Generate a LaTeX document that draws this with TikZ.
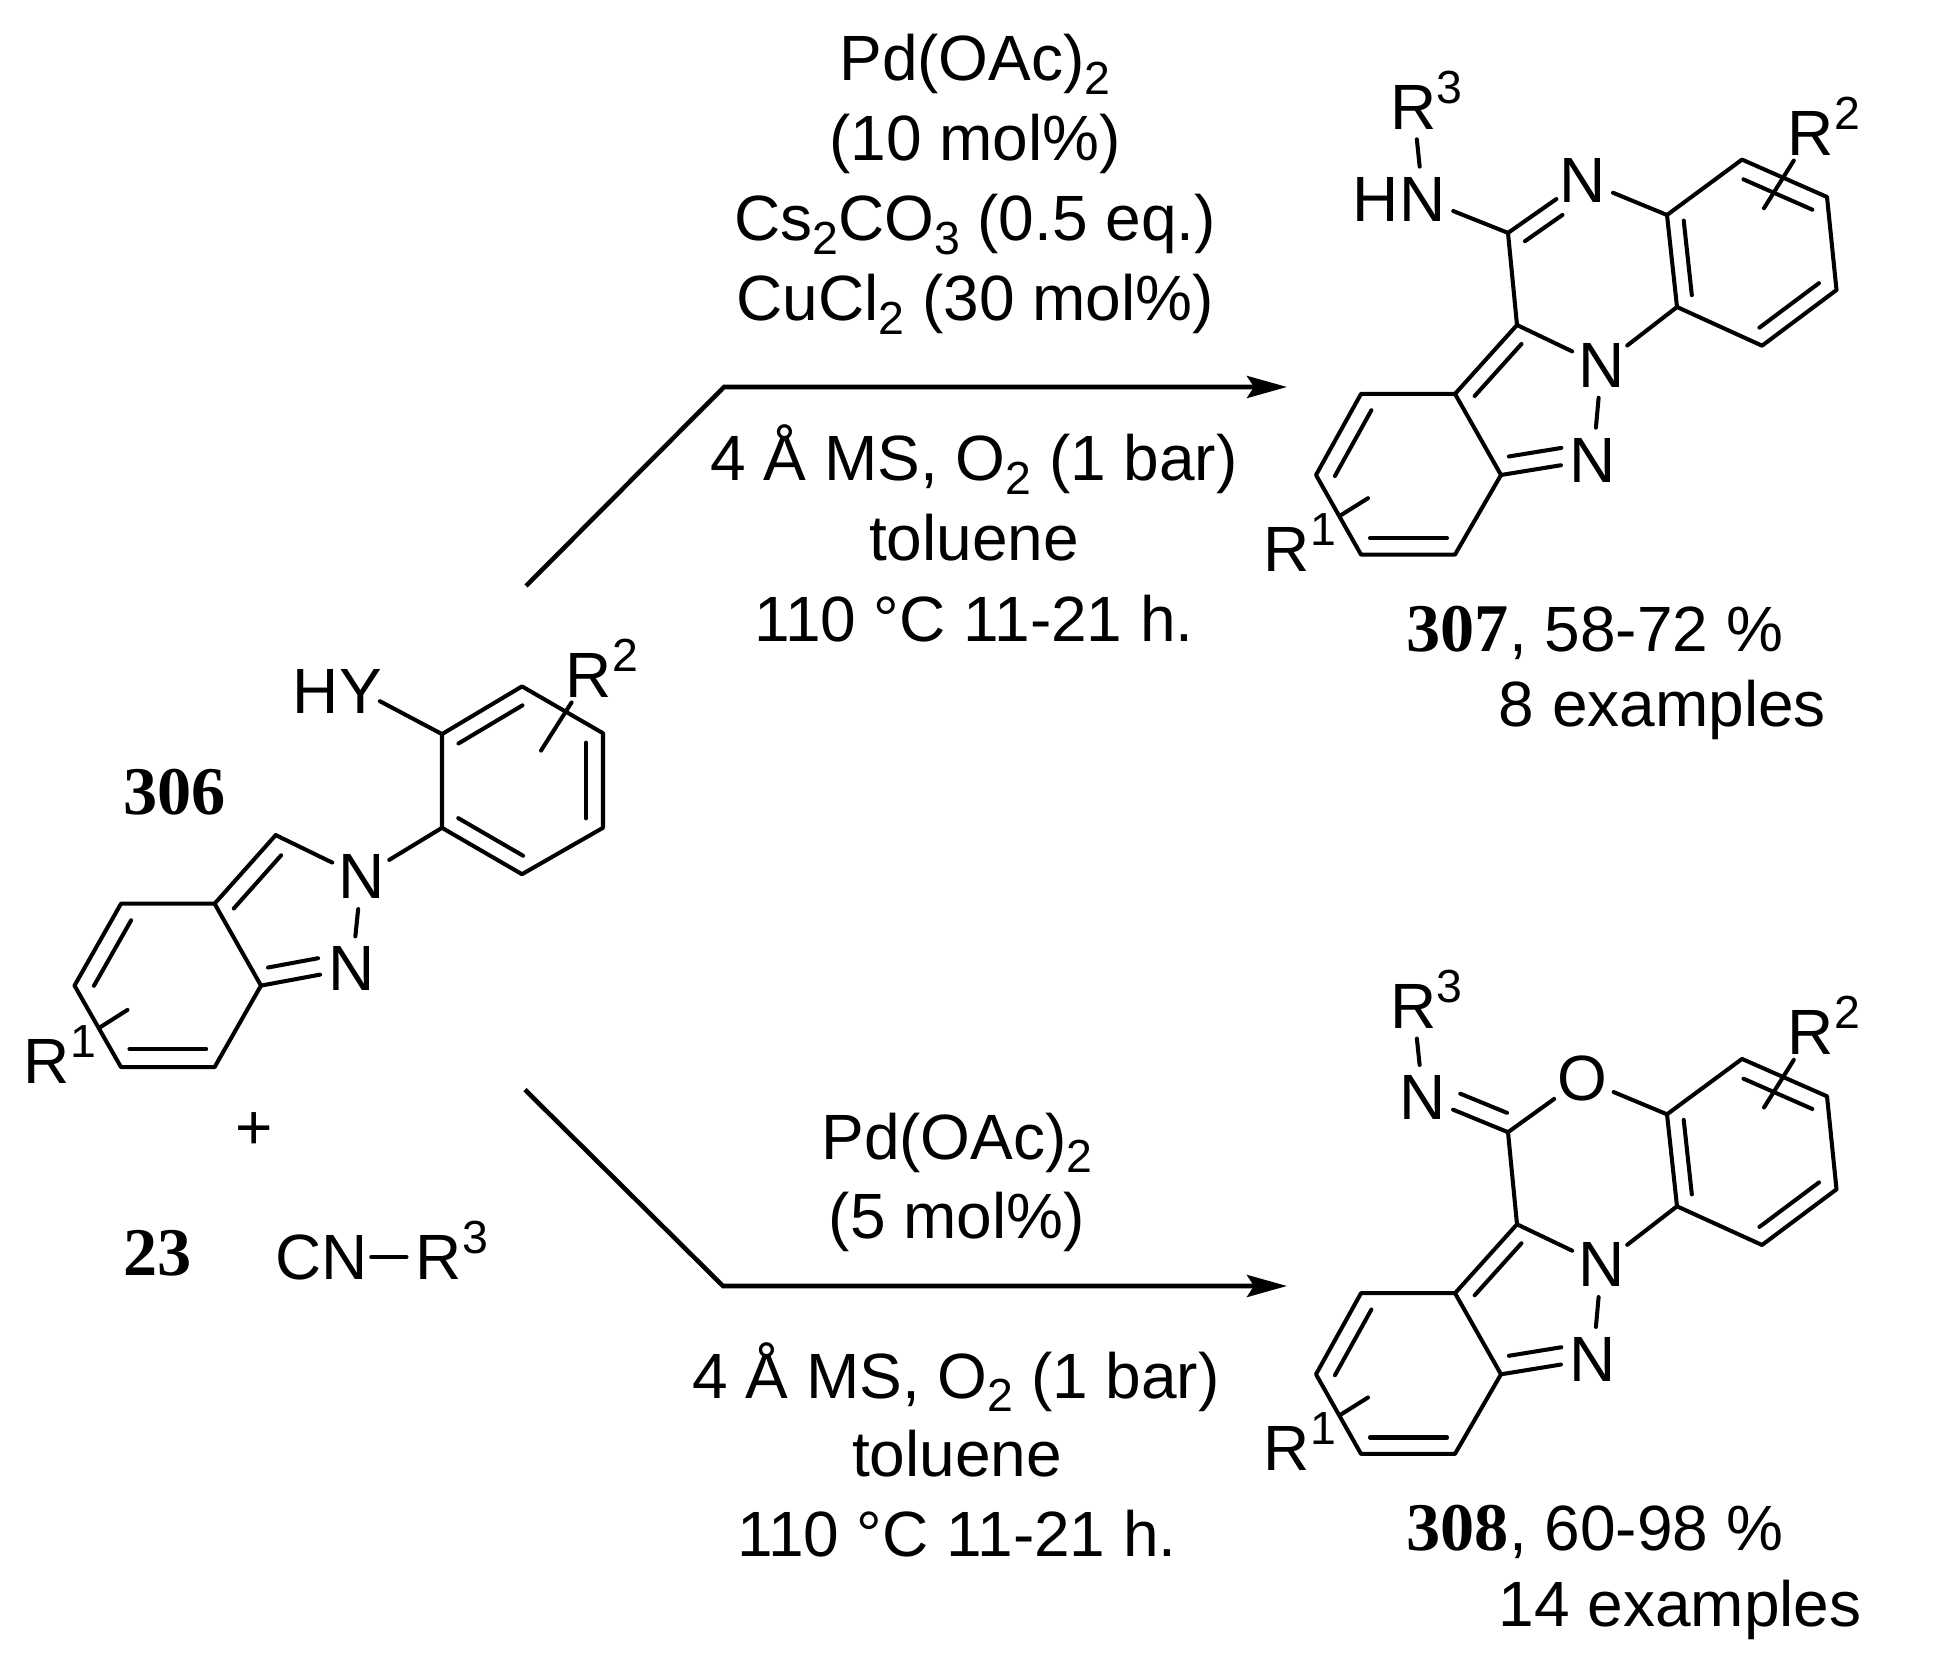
\documentclass[tikz,border=0pt]{standalone}
\usepackage{fontspec}
\setmainfont{Liberation Sans}
\newfontfamily\numfont{Liberation Serif}
\usetikzlibrary{calc,arrows.meta}

\newcommand{\sups}[1]{\rlap{\smash{\raisebox{.4em}{\fontsize{13.2}{15}\selectfont #1}}}}
\newcommand{\subs}[1]{\raisebox{-.21em}{\fontsize{13.2}{15}\selectfont #1}}
\newcommand{\cpd}[1]{{\fontsize{19.4}{22}\selectfont\numfont\bfseries #1}}

\tikzset{
	bond/.style={line width=1.15pt, line cap=round, line join=round},
	rxnarrow/.style={line width=1.3pt, line join=miter},
	atom/.style={circle, inner sep=0pt},
	textline/.style={anchor=base, inner sep=0pt},
	textleft/.style={anchor=base west, inner sep=0pt}
}

% second stroke of a double bond: from, to, start, stop, offset (cm, + is left of travel)
\newcommand{\innerbond}[5]{\draw[bond] ($(#1)!#3!(#2)!#5cm!90:(#2)$) -- ($(#1)!#4!(#2)!#5cm!90:(#2)$);}

% ring system shared by both products
\newcommand{\tricycle}{
	\foreach \name/\pos in {c1/{1667,215}, c2/{1742,159.6}, c3/{1827,197}, c4/{1836.5,290}, c5/{1762,345.7}, c6/{1677,307},
		d1/{1455,393.9}, d2/{1361,393.9}, d3/{1316,475}, d4/{1361,554.6}, d5/{1455,554.6}, d6/{1501,475},
		ca/{1508,232.9}, cb/{1517,325}, rightend/{1764,208.2}, leftend/{1368,498.2}}
		\coordinate (\name) at (\pos);
	\node[atom] (n1) at (1601.5,365.4) {N};
	\node[atom] (n2) at (1593,460) {N};
	\node[atom] (rtwo) at (1811,133) {R\sups{2}};
	\node[atom] (rone) at (1287,549) {R\sups{1}};
	\node[atom] (rthree) at (1413.5,107) {R\sups{3}};
	\draw[bond] (c1) -- (c2) -- (c3) -- (c4) -- (c5) -- (c6) -- cycle;
	\draw[bond] (d1) -- (d2) -- (d3) -- (d4) -- (d5) -- (d6) -- cycle;
	\draw[bond] (ca) -- (cb) -- (d1);
	\draw[bond] (cb) -- (n1);
	\draw[bond] (c6) -- (n1);
	\draw[bond] (n1) -- (n2);
	\draw[bond] (d6) -- (n2);
	\draw[bond] (rtwo) -- (rightend);
	\draw[bond, shorten <=.3cm] (rone) -- (leftend);
	\innerbond{c1}{c6}{.08}{.89}{.16}
	\innerbond{c2}{c3}{.1}{.91}{-.175}
	\innerbond{c4}{c5}{.107}{.906}{-.16}
	\innerbond{cb}{d1}{.12}{.875}{.16}
	\innerbond{d2}{d3}{.1}{.91}{.17}
	\innerbond{d4}{d5}{.096}{.915}{.164}
	\innerbond{d6}{n2}{.115}{.685}{.17}
}

\begin{document}
\begin{tikzpicture}[x=0.01cm, y=-0.01cm, every node/.style={font=\fontsize{18.2}{21}\selectfont}]
	\useasboundingbox (0,0) rectangle (1939,1673);

	% starting material 306
	\foreach \name/\pos in {e1/{214.6,903.7}, e2/{121,903.7}, e3/{74.5,985.6}, e4/{121,1067.1}, e5/{214.6,1067.1}, e6/{261,985.6},
		apex/{275.7,835.1}, f1/{442,734.1}, f2/{522,686.4}, f3/{603,733.2}, f4/{603,827.8}, f5/{522,874.2}, f6/{442,827.8},
		rtwoend/{541,750.6}, roneend/{127.5,1009.9}}
		\coordinate (\name) at (\pos);
	\node[atom] (startn1) at (361.5,876.8) {N};
	\node[atom] (startn2) at (352,968.7) {N};
	\node[atom] (starth) at (316,691.2) {H};
	\node[atom] (starty) at (361,691.2) {Y};
	\node[atom] (startrtwo) at (589,675) {R\sups{2}};
	\node[atom] (startrone) at (47,1061) {R\sups{1}};
	\draw[bond] (e1) -- (e2) -- (e3) -- (e4) -- (e5) -- (e6) -- cycle;
	\draw[bond] (f1) -- (f2) -- (f3) -- (f4) -- (f5) -- (f6) -- cycle;
	\draw[bond] (e1) -- (apex);
	\draw[bond] (apex) -- (startn1);
	\draw[bond] (startn1) -- (startn2);
	\draw[bond] (e6) -- (startn2);
	\draw[bond] (startn1) -- (f6);
	\draw[bond, shorten <=-.1cm] (starty) -- (f1);
	\draw[bond] (startrtwo) -- (rtwoend);
	\draw[bond, shorten <=.3cm] (startrone) -- (roneend);
	\innerbond{e1}{apex}{.1}{.875}{-.175}
	\innerbond{f1}{f2}{.1}{.9}{-.165}
	\innerbond{f3}{f4}{.1}{.9}{-.17}
	\innerbond{f5}{f6}{.09}{.9}{-.165}
	\innerbond{e2}{e3}{.1}{.9}{.17}
	\innerbond{e4}{e5}{.09}{.91}{.18}
	\innerbond{e6}{startn2}{.11}{.66}{.165}
	\node[textleft] (lab306) at (123,814.8) {\cpd{306}};
	\node[inner sep=0pt] (plus) at (254,1131) {+};
	\node[textleft] (lab23) at (123,1275.3) {\cpd{23}};
	\node[inner sep=.03cm] (cn) at (321.3,1257) {CN};
	\node[atom] (cnr) at (439,1257) {R\sups{3}};
	\draw[bond] (cn) -- (cnr);

	% product 307
	\begin{scope}[name prefix=top-]
		\tricycle
		\node[atom] (h) at (1376,199) {H};
		\node[atom] (amine) at (1423,199) {N};
		\node[atom] (n3) at (1583,180.4) {N};
		\draw[bond] (rthree) -- (amine);
		\draw[bond] (amine) -- (ca);
		\draw[bond] (ca) -- (n3);
		\draw[bond] (n3) -- (c1);
		\innerbond{ca}{n3}{.1}{.6}{-.165}
	\end{scope}

	% product 308
	\begin{scope}[name prefix=low-, shift={(0,899.3)}]
		\tricycle
		\node[atom] (imine) at (1423,198) {N};
		\node[atom] (ox) at (1582,179.6) {O};
		\draw[bond] (rthree) -- (imine);
		\draw[bond] (imine) -- (ca);
		\draw[bond] (ca) -- (ox);
		\draw[bond] (ox) -- (c1);
		\innerbond{ca}{imine}{.09}{.64}{-.175}
	\end{scope}

	% reaction arrows
	\coordinate (topstart) at (526,586);
	\coordinate (topbend) at (724,387);
	\coordinate (toptip) at (1287,387);
	\coordinate (lowstart) at (525,1089.7);
	\coordinate (lowbend) at (723,1286);
	\coordinate (lowtip) at (1287,1286);
	\draw[rxnarrow, -{Stealth[length=.4cm, width=.22cm, inset=.07cm]}] (topstart) -- (topbend) -- (toptip);
	\draw[rxnarrow, -{Stealth[length=.4cm, width=.22cm, inset=.07cm]}] (lowstart) -- (lowbend) -- (lowtip);

	% conditions, upper arrow
	\node[textline] (topcat) at (975,81) {Pd(OAc)\subs{2}};
	\node[textline] (topload) at (975,160.6) {(10 mol\%)};
	\node[textline] (topbase) at (975,240.6) {Cs\subs{2}CO\subs{3} (0.5 eq.)};
	\node[textline] (topcu) at (975,320.6) {CuCl\subs{2} (30 mol\%)};
	\node[textline] (topms) at (974,481) {4 Å MS, O\subs{2} (1 bar)};
	\node[textline] (topsolv) at (974,560.6) {toluene};
	\node[textline] (toptemp) at (974,641) {110 °C 11-21 h.};

	% conditions, lower arrow
	\node[textline] (lowcat) at (957,1159.3) {Pd(OAc)\subs{2}};
	\node[textline] (lowload) at (957,1238.3) {(5 mol\%)};
	\node[textline] (lowms) at (956,1398.3) {4 Å MS, O\subs{2} (1 bar)};
	\node[textline] (lowsolv) at (957,1476.7) {toluene};
	\node[textline] (lowtemp) at (957,1556.7) {110 °C 11-21 h.};

	% yields
	\node[textleft] (lab307) at (1406,651.7) {\cpd{307}, 58-72 \%};
	\node[textleft] (ex307) at (1498,726.7) {8 examples};
	\node[textleft] (lab308) at (1406,1550.7) {\cpd{308}, 60-98 \%};
	\node[textleft] (ex308) at (1498,1626.7) {14 examples};
\end{tikzpicture}
\end{document}
